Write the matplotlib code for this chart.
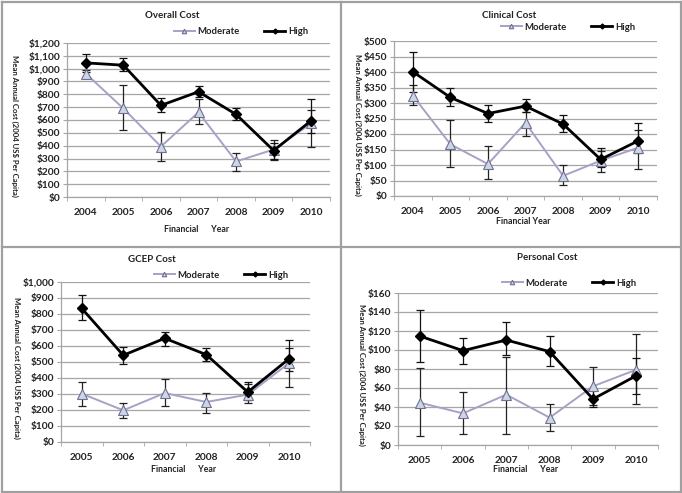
import matplotlib
matplotlib.use("Agg")
import matplotlib.pyplot as plt
from matplotlib.lines import Line2D
import numpy as np

plt.rcParams['font.family'] = ['Lato', 'DejaVu Sans']

years_a = ['2004', '2005', '2006', '2007', '2008', '2009', '2010']
years_b = ['2005', '2006', '2007', '2008', '2009', '2010']

# Overall cost
overall_high = [1045, 1027, 714, 820, 644, 362, 595]
overall_high_lo = [975, 980, 665, 780, 598, 300, 500]
overall_high_hi = [1115, 1080, 770, 865, 695, 420, 760]
overall_mod = [962, 690, 393, 660, 277, 370, 574]
overall_mod_lo = [935, 520, 280, 570, 200, 290, 390]
overall_mod_hi = [990, 875, 510, 760, 345, 445, 680]

# Clinical cost
clin_high = [401, 318, 266, 290, 232, 118, 178]
clin_high_lo = [335, 290, 238, 270, 207, 95, 140]
clin_high_hi = [465, 347, 295, 314, 260, 155, 236]
clin_mod = [324, 167, 103, 236, 65, 114, 156]
clin_mod_lo = [292, 93, 55, 195, 35, 78, 86]
clin_mod_hi = [357, 246, 160, 270, 100, 145, 212]

# GCEP cost
gcep_high = [835, 542, 648, 546, 312, 521]
gcep_high_lo = [765, 490, 597, 505, 260, 445]
gcep_high_hi = [920, 595, 690, 585, 375, 640]
gcep_mod = [302, 198, 306, 250, 296, 494]
gcep_mod_lo = [228, 152, 228, 182, 245, 345]
gcep_mod_hi = [378, 242, 395, 307, 365, 590]

# Personal cost
pers_high = [114.7, 99.3, 110.5, 98.3, 48.4, 73]
pers_high_lo = [87, 85, 95, 83, 40, 54]
pers_high_hi = [142, 113, 130, 115, 58, 92]
pers_mod = [44.6, 33.3, 53, 28.8, 61.8, 79.3]
pers_mod_lo = [9.5, 12, 12, 14.5, 42, 43.5]
pers_mod_hi = [81, 56, 93, 43.5, 82.5, 117]

GRID = '#a6a6a6'
MOD_LINE = '#a9a0c6'
MOD_FILL = '#ccd6e6'
MOD_EDGE = '#6f6f8f'

fig = plt.figure(figsize=(6.82, 4.93), dpi=100)
W, H = 682, 493

def fx(px):
    return px / W

def fy(py):
    return 1 - py / H

# panel borders
for x in [1.5, 340.5, 680.5]:
    fig.add_artist(Line2D([fx(x), fx(x)], [fy(1.5), fy(491.5)], color='#a0a0a0', lw=1.6))
for y in [1.5, 246.5, 491.5]:
    fig.add_artist(Line2D([fx(1.5), fx(680.5)], [fy(y), fy(y)], color='#a0a0a0', lw=1.6))

def money(v, p):
    return '${:,.0f}'.format(v)

def panel(rect, cats, high, hlo, hhi, mod, mlo, mhi, ymax, ystep, title, title_xy,
          leg_y, ylab_x, xlab, xlab_y, tick_fs=7.3):
    l, t, r, b = rect
    ax = fig.add_axes([fx(l), fy(b), fx(r - l), (b - t) / H])
    x = np.arange(len(cats))
    ax.set_ylim(0, ymax)
    ax.set_xlim(-0.5, len(cats) - 0.5)
    ax.set_yticks(np.arange(0, ymax + ystep / 2, ystep))
    ax.yaxis.set_major_formatter(matplotlib.ticker.FuncFormatter(money))
    ax.set_xticks(x)
    ax.set_xticklabels(cats)
    ax.set_xticks(np.arange(-0.5, len(cats), 1.0), minor=True)
    ax.tick_params(axis='x', which='major', length=0, pad=8, labelsize=tick_fs)
    ax.tick_params(axis='x', which='minor', length=3, color=GRID)
    ax.tick_params(axis='y', length=3, color=GRID, labelsize=tick_fs, pad=2)
    for lab in ax.get_xticklabels() + ax.get_yticklabels():
        lab.set_fontweight('bold')
        lab.set_color('#222222')
    ax.grid(axis='y', color=GRID, lw=0.9)
    ax.set_axisbelow(True)
    for s in ['top', 'right']:
        ax.spines[s].set_visible(False)
    for s in ['left', 'bottom']:
        ax.spines[s].set_color(GRID)
        ax.spines[s].set_linewidth(0.9)
    mod = np.array(mod); high = np.array(high)
    ax.errorbar(x, mod, yerr=[mod - np.array(mlo), np.array(mhi) - mod], fmt='none',
                ecolor='#222222', elinewidth=0.9, capsize=3, capthick=0.9, zorder=3)
    ax.errorbar(x, high, yerr=[high - np.array(hlo), np.array(hhi) - high], fmt='none',
                ecolor='#111111', elinewidth=0.9, capsize=3, capthick=0.9, zorder=3)
    ax.plot(x, mod, color=MOD_LINE, lw=1.4, marker='^', ms=6.5, mfc=MOD_FILL,
            mec=MOD_EDGE, mew=0.8, zorder=4, label='Moderate')
    ax.plot(x, high, color='black', lw=2.0, marker='D', ms=5, mfc='black',
            mec='black', zorder=5, label='High')
    fig.text(fx(title_xy[0]), fy(title_xy[1]), title, ha='center', va='center',
             fontsize=7, fontweight='bold', color='#222222')
    leg = ax.legend(loc='center right', bbox_to_anchor=(fx(r - 18), fy(leg_y)),
                    bbox_transform=fig.transFigure, ncol=2, frameon=False,
                    fontsize=6.8, handlelength=2.2, columnspacing=2.6,
                    handletextpad=0.3, borderaxespad=0, markerscale=0.5)
    for tx in leg.get_texts():
        tx.set_fontweight('bold'); tx.set_color('#222222')
    fig.text(fx(ylab_x), fy((t + b) / 2 + 6), 'Mean Annual Cost (2004 US$ Per Capita)',
             rotation=270, ha='center', va='center', fontsize=5.6, fontweight='bold',
             color='#222222')
    fig.text(fx((l + r) / 2 - 2), fy(xlab_y), xlab, ha='center', va='center',
             fontsize=6.3, fontweight='bold', color='#222222')
    return ax

panel((67, 43, 330, 197), years_a, overall_high, overall_high_lo, overall_high_hi,
      overall_mod, overall_mod_lo, overall_mod_hi, 1200, 100, 'Overall Cost', (172, 16),
      32, 15, 'Financial      Year', 229)
panel((394, 41, 657, 196), years_a, clin_high, clin_high_lo, clin_high_hi,
      clin_mod, clin_mod_lo, clin_mod_hi, 500, 50, 'Clinical Cost', (509, 16),
      27, 358, 'Financial Year', 221)
panel((61, 282, 310, 442), years_b, gcep_high, gcep_high_lo, gcep_high_hi,
      gcep_mod, gcep_mod_lo, gcep_mod_hi, 1000, 100, 'GCEP Cost', (152, 259),
      275, 17, 'Financial      Year', 470)
panel((398, 293, 658, 445), years_b, pers_high, pers_high_lo, pers_high_hi,
      pers_mod, pers_mod_lo, pers_mod_hi, 160, 20, 'Personal Cost', (547, 257),
      283, 362, 'Financial      Year', 470)

fig.savefig('out.png', dpi=100)
